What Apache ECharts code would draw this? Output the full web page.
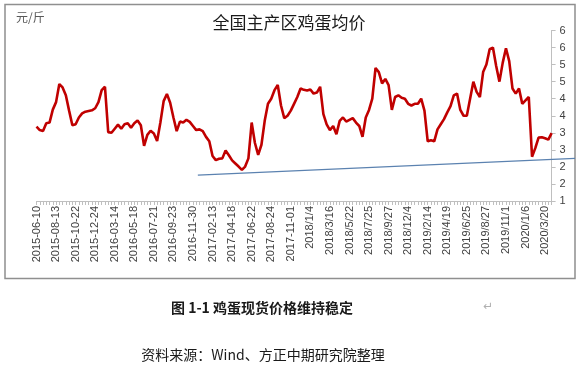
<!DOCTYPE html>
<html><head><meta charset="utf-8">
<script src="https://cdn.jsdelivr.net/npm/echarts@6/dist/echarts.min.js"></script>
<style>html,body{margin:0;padding:0;background:#fff}#c{width:578px;height:369px}</style>
</head><body><div id="c"></div>
<script>
const dateLabels = ['2015-06-10','2015-08-13','2015-10-22','2015-12-24','2016-03-14','2016-05-18','2016-07-21','2016-09-23','2016-11-30','2017-02-13','2017-04-18','2017-06-22','2017-08-24','2017-11-01','2018/1/4','2018/3/16','2018/5/22','2018/7/25','2018/9/27','2018/12/4','2019/2/14','2019/4/19','2019/6/25','2019/8/27','2019/11/1','2020/1/6','2020/3/20'];
const pointsPerLabel = 6;
const priceValues = [
3.18,3.08,3.05,3.28,3.30,3.68,3.90,4.43,4.33,4.10,
3.65,3.22,3.25,3.45,3.57,3.62,3.64,3.66,3.72,3.90,
4.25,4.35,3.02,3.00,3.12,3.24,3.12,3.25,3.28,3.15,
3.28,3.36,3.22,2.62,2.94,3.06,2.98,2.76,3.30,3.93,
4.14,3.88,3.45,3.05,3.33,3.30,3.38,3.32,3.20,3.08,
3.10,3.05,2.88,2.75,2.32,2.20,2.24,2.25,2.48,2.34,
2.19,2.10,2.01,1.91,2.01,2.25,3.30,2.70,2.35,2.65,
3.35,3.85,4.00,4.25,4.40,3.80,3.43,3.50,3.65,3.85,
4.05,4.30,4.26,4.24,4.27,4.15,4.18,4.35,3.55,3.25,
3.08,3.20,2.96,3.35,3.45,3.33,3.38,3.43,3.30,3.20,
2.88,3.45,3.67,4.00,4.90,4.78,4.45,4.58,4.40,3.67,
4.05,4.10,4.03,4.00,3.85,3.80,3.85,3.85,4.00,3.65,
2.75,2.78,2.75,3.10,3.25,3.40,3.60,3.78,4.10,4.15,
3.67,3.50,3.50,4.00,4.50,4.20,4.05,4.78,5.00,5.45,
5.50,4.96,4.50,5.05,5.48,5.10,4.30,4.15,4.30,3.85,
3.95,4.05,2.30,2.55,2.86,2.87,2.84,2.80,2.99
];
const trendLine = [[49.5,1.76],[165.2,2.25]];
const unitLabel = '元/斤';
const chartTitle = '全国主产区鸡蛋均价';
const captionText = '图 1-1 鸡蛋现货价格维持稳定';
const sourceText = '资料来源：Wind、方正中期研究院整理';

const categories = priceValues.map((v,i) => i % pointsPerLabel === 0 ? (dateLabels[i/pointsPerLabel] || '') : '');

const chart = echarts.init(document.getElementById('c'), null, {renderer:'canvas'});
const axisGray = '#bfbfbf';
chart.setOption({
  animation:false,
  backgroundColor:'#ffffff',
  grid:[
    {left:36.5, right:26.4, top:30.5, bottom:168},
    {left:36.5, right:3, top:30.5, bottom:168}
  ],
  xAxis:[
    {type:'category', gridIndex:0, data:categories, boundaryGap:false,
     axisLine:{lineStyle:{color:axisGray,width:1}},
     axisTick:{interval:0,length:4,lineStyle:{color:axisGray}},
     axisLabel:{interval:0, rotate:90, fontSize:11, color:'#404040', margin:5, fontFamily:'Liberation Sans'}},
    {type:'value', gridIndex:1, min:0, max:165.2, show:false}
  ],
  yAxis:[
    {type:'value', gridIndex:0, position:'right', min:1, max:6, interval:0.5,
     axisLine:{show:true,lineStyle:{color:axisGray}},
     axisTick:{show:true,length:4,lineStyle:{color:axisGray}},
     splitLine:{show:false},
     axisLabel:{formatter:v=>String(Math.round(v)), fontSize:11, color:'#404040', margin:8, fontFamily:'Liberation Sans'}},
    {type:'value', gridIndex:1, min:1, max:6, show:false}
  ],
  series:[
    {type:'line', xAxisIndex:0, yAxisIndex:0, data:priceValues, symbol:'none',
     lineStyle:{color:'#c00000', width:2.6}, z:3},
    {type:'line', xAxisIndex:1, yAxisIndex:1, data:trendLine, symbol:'none', clip:false,
     lineStyle:{color:'#5b82b0', width:1.2}, z:2}
  ],
  graphic:[
    {type:'rect', shape:{x:5,y:4.5,width:570,height:274}, style:{fill:null, stroke:'#8f8f8f', lineWidth:1.5}, silent:true},
    {type:'text', x:16, y:17, style:{text:unitLabel, fontSize:12, fill:'#595959', textVerticalAlign:'middle', fontFamily:'Noto Sans CJK SC'}},
    {type:'text', x:289, y:23, style:{text:chartTitle, fontSize:17, fill:'#1a1a1a', textAlign:'center', textVerticalAlign:'middle', fontFamily:'Noto Sans CJK SC'}},
    {type:'text', x:262, y:308, style:{text:captionText, fontSize:14, fontWeight:'bold', fill:'#1a1a1a', textAlign:'center', textVerticalAlign:'middle', fontFamily:'Noto Sans CJK SC'}},
    {type:'text', x:488, y:307, style:{text:'↵', fontSize:12, fill:'#b0b0b0', textAlign:'center', textVerticalAlign:'middle', fontFamily:'DejaVu Sans'}},
    {type:'text', x:263, y:355, style:{text:sourceText, fontSize:14, fill:'#1a1a1a', textAlign:'center', textVerticalAlign:'middle', fontFamily:'Noto Sans CJK SC'}}
  ]
});
</script></body></html>
